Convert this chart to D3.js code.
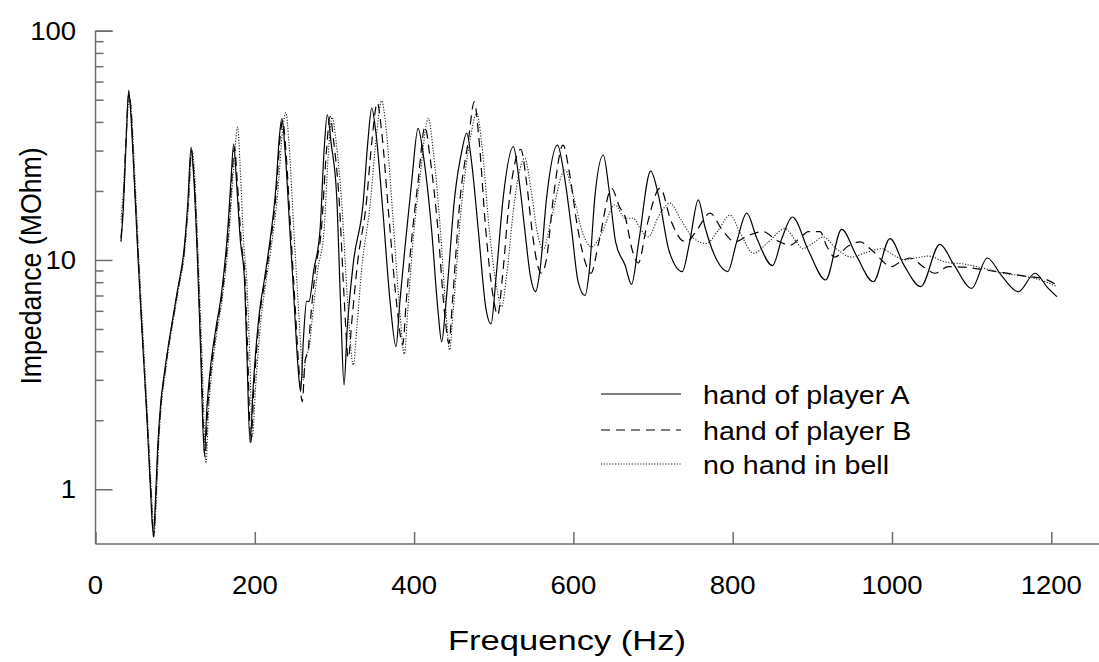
<!DOCTYPE html>
<html>
<head>
<meta charset="utf-8">
<script src="https://cdn.jsdelivr.net/npm/d3@7"></script>
<style>
  html, body { margin: 0; padding: 0; background: #fff; }
  text { font-family: "Liberation Sans", Arial, Helvetica, sans-serif; fill: #000; }
</style>
</head>
<body>
<svg id="chart" width="1099" height="662"></svg>
<script>
// ---- data (frequency in Hz, impedance in MOhm) ----
const seriesNames = ["hand of player A", "hand of player B", "no hand in bell"];
const xTicks = [0, 200, 400, 600, 800, 1000, 1200];
const yMajorTicks = [1, 10, 100];
const yTickLabels = ["1", "10", "100"];
const xLabel = "Frequency (Hz)";
const yLabel = "Impedance (MOhm)";

const playerA = [
[32,12.0],[35,17],[38,30],[41.7,55],[44,45],[48,25],[53.5,10],[59,4.5],[64.7,2.0],[69,1.0],[72.6,0.63],[75,0.85],[78,1.5],[82,2.4],[86.4,3.2],[90.6,4.05],[96,5.3],[103,7.4],[111.5,11.4],[116,18],[120,31],[123,24],[128,10],[132,4],[136.6,1.43],[140,2.3],[145,3.55],[151,5],[157.6,6.9],[166,13.5],[170,22],[173.5,32],[177,22],[182,12],[186.8,8.5],[190,4],[194,1.6],[198,2.8],[205.7,5.86],[212,8.2],[218,11.4],[226.6,20.9],[231,35],[234,41.5],[238,30],[244,13.5],[250,6],[254,3.5],[257.6,2.67],[261,4.5],[265,6.6],[268,6.6],[274,9],[281.9,13.5],[287,30],[291,43],[296,32],[302.8,18.9],[308,6],[312,2.85],[316,5],[323.7,9.7],[336,17.7],[342,33],[346.8,46],[352,36],[361,16],[370,6.5],[377.3,4.19],[382,6.5],[388.6,11.4],[397,22],[405,37.5],[412,28],[422,13.5],[430,6],[434.6,4.4],[440,6.5],[451,18.9],[460,30],[466,35.7],[472,27],[480.6,13.5],[490,6.2],[496.6,5.26],[503,8.5],[512,18.9],[524.6,31.2],[532,22],[539,13.5],[546,8.5],[552.6,7.27],[558,9],[566.5,18.9],[580,31.7],[588,24],[597.8,13.5],[606,8],[614.5,7.0],[620,9],[627,18.9],[637.5,28.7],[645,20],[653,12],[664.8,9.5],[673,7.83],[682,12],[697,24.4],[707,19],[720,11],[736.7,8.9],[746,12],[756.8,18.3],[765,14],[780,10],[793.7,8.9],[805,12],[817.6,16],[830,12.5],[850,9.45],[862,12.5],[875,15.4],[895,11],[916.7,8.18],[936.8,13.6],[955,10.5],[976.5,8.04],[997.5,12.4],[1015,9.5],[1036,7.65],[1060,11.7],[1078,9.5],[1100,7.52],[1119.6,10.2],[1138,8.5],[1158.6,7.27],[1179.5,8.75],[1195,7.6],[1207,6.92]
];

const playerB = [
[32,12.5],[35,18],[38,32],[42,53],[44.5,46],[48,26],[54,10],[59,4.6],[65,2.0],[69.5,1.0],[73,0.62],[75.5,0.85],[78.5,1.5],[82.5,2.4],[87,3.2],[91,4.05],[96.5,5.3],[103.5,7.4],[112,11.4],[116.5,18],[120.5,30],[123.5,24],[128.5,10],[132.5,4],[137.5,1.38],[141,2.3],[146,3.55],[152,5],[158.5,6.9],[167,13.5],[171,22],[174.5,31],[178,22],[183,12],[187.5,8.5],[191,4],[195,1.6],[199,2.8],[206.5,5.86],[213,8.2],[219,11.4],[227.5,20.9],[232,35],[235,40.5],[239,30],[245,13.5],[251,6],[255,3.5],[259.7,2.41],[263,3.6],[267,4.05],[270,5.5],[276,9],[283.5,13.5],[290,30],[294.5,42.2],[299,33],[306,18],[312,7],[317.4,3.73],[322,5.5],[329,9.7],[340,17.7],[347,33],[353.8,48.5],[359,37],[368,16],[378,6.5],[385.7,4.26],[390,6.5],[396,11.4],[405,22],[413.7,38.1],[420,28],[430,13.5],[438,6],[443.8,4.33],[448,6.5],[458,18.9],[468,33],[475.6,49],[481,35],[490,13.5],[499,7],[505,5.75],[511,8.5],[520,18.9],[534,30.4],[541,22],[548,13.5],[555,9.5],[560,8.75],[566,10],[575,18.9],[587,31.7],[595,24],[605,14],[614,10],[622,8.75],[632,12],[648,20.5],[658,17],[665,15.4],[674,11],[681.5,9.7],[692,14],[709,20.6],[722,15],[736,12.2],[742,12.0],[755,13.5],[771.5,16],[787,13.5],[803,12],[820,12.8],[838,13.3],[855,12.2],[872,11.6],[885,12.5],[895,13.3],[909.6,13.3],[918,11.5],[928,10.3],[945,11.5],[960,12.0],[975,11],[999.6,9.35],[1010,9.8],[1022.6,10.2],[1040,9.3],[1054,8.75],[1070.7,9.35],[1090,9.3],[1116.7,9.05],[1140,8.8],[1171,8.46],[1190,8.3],[1207,7.78]
];

const noHand = [
[32,15],[35,20],[38,32],[42.5,50],[45,45],[49,25],[54.5,10],[60,4.5],[65.5,2.0],[70,1.0],[73.5,0.64],[76,0.85],[79,1.5],[83,2.4],[87.5,3.2],[91.5,4.05],[97,5.3],[104,7.4],[112.5,11.4],[117,18],[121,30],[124,25],[129,10],[133.5,4],[138.7,1.3],[142,2.2],[147,3.5],[153,5],[159.5,6.9],[168,13.5],[173,24],[178.5,38],[181.5,26],[186,12],[190,8],[193.5,4],[197,1.7],[201,2.8],[208,5.6],[214,8],[220,11],[229,20],[235,37],[239,43.9],[243,32],[249,13.5],[255,6],[258,4],[261,3.0],[264,3.8],[268,4.1],[272,5.5],[279,9],[287,13.5],[292,28],[297,41.9],[302,33],[309,18],[316,7],[323.7,3.48],[328,5],[334,9],[345,17.7],[352,33],[359.3,49.5],[365,37],[373,16],[382,6],[387.7,3.89],[392,6],[398,11.4],[408,24],[417.8,41.5],[424,30],[433,13.5],[440,6],[444.5,4.05],[449,6],[460,18],[470,33],[478.6,43.6],[485,32],[494,14],[504,7.5],[510,6.25],[516,8.5],[526,18],[539,27.8],[547,20],[555,13],[562,11.1],[572,15],[589.5,24.7],[600,19],[612,13],[623,11.4],[635.5,13.1],[652,17.4],[665,15.2],[675,15.2],[685,13.5],[694,12.6],[707,15.5],[721,17.7],[735,15],[750,12.5],[767,11.8],[782,13.5],[796.6,15.7],[810,13],[826,10.7],[845,12],[865.6,13.7],[880,12],[888,11.2],[900,11.8],[913.8,12.6],[930,11.2],[949.4,10.3],[968,10.8],[987,11.2],[1000,10.6],[1016,10],[1030,10.2],[1045.6,10.4],[1066.5,9.8],[1090,9.6],[1115,9.2],[1140,8.75],[1165,8.5],[1190,8.1],[1207,7.65]
];

// ---- layout ----
const svg = d3.select("#chart");
const axisColor = "#6e6e6e";
const sx = 1.1; // horizontal stretch of text seen in reference

const x = d3.scaleLinear().domain([0, 1260]).range([95.5, 1099.1]);
const y = d3.scaleLog().domain([0.577, 100]).range([544, 30.7]);

// y axis (ticks inward)
const yAxis = d3.axisRight(y)
  .tickValues(d3.range(0, 3).flatMap(e => d3.range(1, 10).map(m => m * Math.pow(10, e))).filter(v => v <= 100).concat([100]))
  .tickSize(8).tickFormat("");
const gy = svg.append("g").attr("transform", `translate(${x(0)},0)`).call(yAxis);
gy.selectAll(".tick line").attr("x2", d => yMajorTicks.includes(d) ? 17 : 8);
gy.selectAll("line,path").attr("stroke", axisColor).attr("stroke-width", 1.5);
gy.select(".domain").attr("d", `M0,${y(100)}V${y.range()[0]}`);

// x axis (ticks inward)
const xAxis = d3.axisTop(x).tickValues(xTicks).tickSize(12).tickFormat("");
const gx = svg.append("g").attr("transform", `translate(0,${y.range()[0]})`).call(xAxis);
gx.selectAll("line,path").attr("stroke", axisColor).attr("stroke-width", 1.5);
gx.select(".domain").attr("d", `M${x(0)},0H${x.range()[1]}`);

// tick labels
const fs = 25;
function stretchedText(g, tx, ty, str, anchor, size, stretch) {
  return g.append("text")
    .attr("transform", `translate(${tx},${ty}) scale(${stretch || sx},1)`)
    .attr("text-anchor", anchor)
    .attr("font-size", size || fs)
    .text(str);
}
yMajorTicks.forEach((v, i) => {
  stretchedText(svg, 76, y(v) + 9, yTickLabels[i], "end");
});
xTicks.forEach(v => {
  stretchedText(svg, x(v), 594, String(v), "middle");
});

// axis titles
stretchedText(svg, 567, 650, xLabel, "middle", 27, 1.28);
svg.append("text")
  .attr("transform", `translate(41,266) rotate(-90) scale(1,${sx})`)
  .attr("text-anchor", "middle")
  .attr("font-size", 26.7)
  .text(yLabel);

// lines
const line = d3.line().x(d => x(d[0])).y(d => y(d[1])).curve(d3.curveMonotoneX);
const styles = [
  { data: playerA, dash: null, color: "#000", w: 1.2 },
  { data: playerB, dash: "9,6", color: "#000", w: 1.2 },
  { data: noHand, dash: "1.2,1.6", color: "#222", w: 1.1 }
];
styles.forEach(s => {
  svg.append("path")
    .attr("d", line(s.data))
    .attr("fill", "none")
    .attr("stroke", s.color)
    .attr("stroke-width", s.w)
    .attr("stroke-dasharray", s.dash);
});

// legend
const legY = [394, 430, 464];
seriesNames.forEach((name, i) => {
  svg.append("line")
    .attr("x1", 601).attr("x2", 681)
    .attr("y1", legY[i]).attr("y2", legY[i])
    .attr("stroke", styles[i].color)
    .attr("stroke-width", styles[i].w)
    .attr("stroke-dasharray", styles[i].dash);
  stretchedText(svg, 703, legY[i] + 10, name, "start", 26);
});
</script>
</body>
</html>
